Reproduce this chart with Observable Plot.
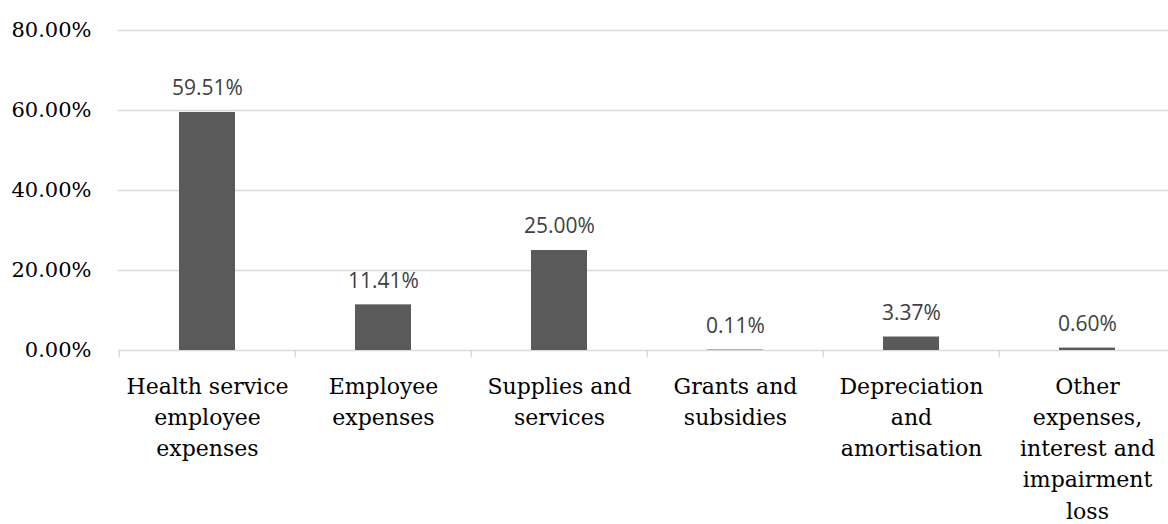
<!DOCTYPE html>
<html>
<head>
<meta charset="utf-8">
<script src="https://cdn.jsdelivr.net/npm/d3@7"></script>
<script src="https://cdn.jsdelivr.net/npm/@observablehq/plot@0.6"></script>
<style>
  html, body { margin: 0; padding: 0; background: #fff; }
  #chart svg { display: block; }
</style>
</head>
<body>
<div id="chart"></div>
<script>
const categories = [
  "Health service employee expenses",
  "Employee expenses",
  "Supplies and services",
  "Grants and subsidies",
  "Depreciation and amortisation",
  "Other expenses, interest and impairment loss"
];
const wrappedLabels = [
  "Health service\nemployee\nexpenses",
  "Employee\nexpenses",
  "Supplies and\nservices",
  "Grants and\nsubsidies",
  "Depreciation\nand\namortisation",
  "Other\nexpenses,\ninterest and\nimpairment\nloss"
];
const values = [59.51, 11.41, 25.00, 0.11, 3.37, 0.60];
const yTicks = [0, 20, 40, 60, 80];

const data = categories.map((c, i) => ({category: c, value: values[i], label: wrappedLabels[i]}));
const fmt = v => v.toFixed(2) + "%";

const chart = Plot.plot({
  width: 1168,
  height: 524,
  marginLeft: 118,
  marginRight: 0,
  marginTop: 30,
  marginBottom: 174,
  style: {fontFamily: "'DejaVu Serif', serif", background: "#fff"},
  x: {domain: categories, range: [118, 1176], paddingInner: 0.68, paddingOuter: 0.34, axis: null},
  y: {domain: [0, 80], axis: null, label: null},
  marks: [
    Plot.ruleY(yTicks.filter(t => t > 0), {stroke: "#d9d9d9", strokeWidth: 1.3}),
    Plot.ruleY([0], {stroke: "#d9d9d9", strokeWidth: 1.3}),
    Plot.ruleX(categories, {x: d => d, dx: -88.2, y1: 0, y2: -1.8, stroke: "#d9d9d9", strokeWidth: 1.3}),
    Plot.barY(data, {x: "category", y: "value", fill: "#5a5a5a"}),
    Plot.text(data, {x: "category", y: "value", text: d => fmt(d.value), dy: -24, fontSize: 21, fill: "#404040", fontFamily: "'Open Sans', sans-serif"}),
    Plot.text(data, {x: "category", y: 0, text: "label", dy: 21, lineAnchor: "top", lineHeight: 1.42, fontSize: 22, fill: "#000"}),
    Plot.axisY({ticks: yTicks, tickFormat: fmt, tickSize: 0, tickPadding: 27, fontSize: 21, fill: "#000", anchor: "left", label: null})
  ]
});
document.getElementById("chart").appendChild(chart);
</script>
</body>
</html>
